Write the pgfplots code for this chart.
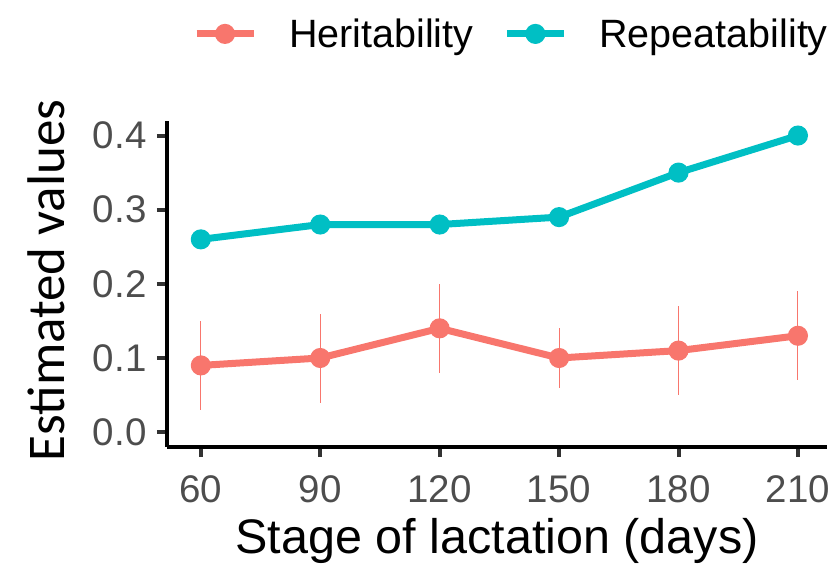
\documentclass[border=0pt]{standalone}
\usepackage{fontspec}
\setmainfont{Liberation Sans}
\newfontfamily\calib{Carlito}
\usepackage{pgfplots}
\pgfplotsset{compat=1.18}
\definecolor{herit}{HTML}{F8766D}
\definecolor{repcol}{HTML}{00BFC4}
\definecolor{ticklab}{HTML}{4D4D4D}
\definecolor{tickcol}{HTML}{333333}
\begin{document}
\begin{tikzpicture}
\useasboundingbox (-167pt,-117pt) rectangle (666pt,447pt);
\begin{axis}[
  scale only axis, width=660pt, height=326.3pt,
  xmin=51.5, xmax=217.3, ymin=-0.02, ymax=0.42,
  clip=false,
  axis lines=left,
  axis line style={-, line width=4pt, black},
  xtick={60,90,120,150,180,210},
  ytick={0,0.1,0.2,0.3,0.4},
  tick align=outside, major tick length=10pt,
  tick style={line width=4pt, color=tickcol},
  /pgf/number format/assume math mode=true,
  ticklabel style={font=\fontsize{38.5}{40}\selectfont, text=ticklab},
  xticklabel style={yshift=-15pt},
  yticklabel style={xshift=-7pt, /pgf/number format/.cd, fixed, fixed zerofill, precision=1},
  xlabel={Stage of lactation (days)},
  ylabel={Estimated values},
  xlabel style={font=\fontsize{48.5}{50}\selectfont, at={(axis description cs:0.5,-0.3249)}, anchor=base},
  ylabel style={font=\fontsize{53}{55}\selectfont\calib, at={(axis description cs:-0.155,0.51)}, anchor=base},
  legend columns=-1,
  legend cell align=left,
  legend style={at={(axis description cs:1.0015,1.266)}, anchor=east,
    draw=none, fill=none, inner sep=0pt,
    font=\fontsize{39.5}{41}\selectfont,
    nodes={inner sep=0pt},
    /tikz/every even column/.append style={column sep=30pt}},
  legend image code/.code={
    \draw[mark repeat=2, mark phase=2, #1] plot coordinates {(0pt,0pt) (28.5pt,0pt) (57pt,0pt)};
    \path[draw=none, fill=none] (57pt,0pt) -- (92.5pt,0pt);
  },
]
% heritability with error bars
\addplot[color=herit, line width=7pt, mark=*, mark size=6.5pt,
  mark options={draw=none, fill=herit},
  error bars/.cd, y dir=both, y explicit, error mark=none,
  error bar style={line width=1pt, color=herit}]
  coordinates {
    (60,0.09)  +- (0,0.06)
    (90,0.10)  +- (0,0.06)
    (120,0.14) +- (0,0.06)
    (150,0.10) +- (0,0.04)
    (180,0.11) +- (0,0.06)
    (210,0.13) +- (0,0.06)
  };
\addlegendentry{Heritability}
% repeatability
\addplot[color=repcol, line width=7pt, mark=*, mark size=6.5pt,
  mark options={draw=none, fill=repcol}]
  coordinates {
    (60,0.26)
    (90,0.28)
    (120,0.28)
    (150,0.29)
    (180,0.35)
    (210,0.40)
  };
\addlegendentry{Repeatability}
\end{axis}
\end{tikzpicture}
\end{document}
